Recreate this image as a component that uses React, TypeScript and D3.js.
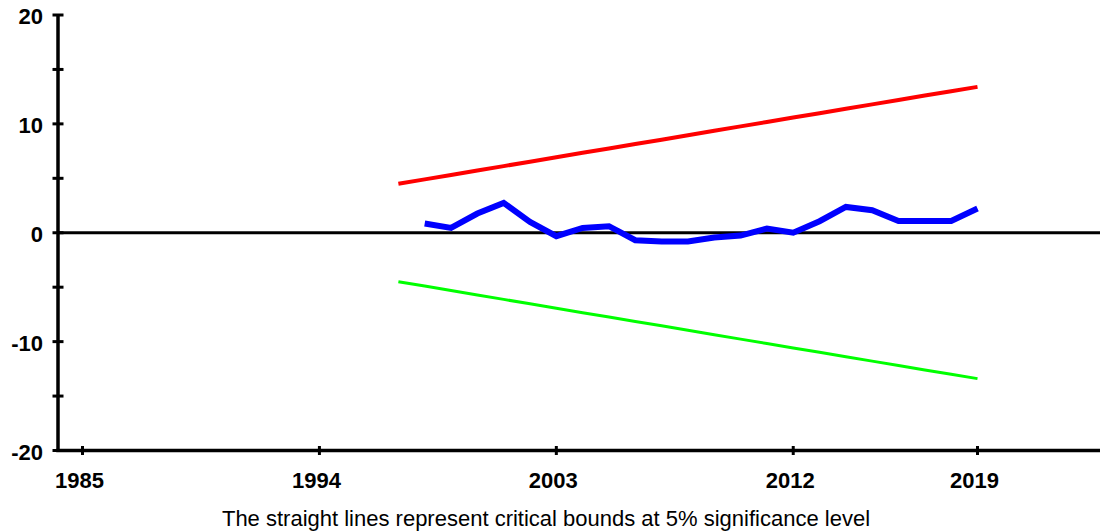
import React from "react";
import * as d3 from "d3";

const years = d3.range(1997, 2020);
const upperBound = [4.5, 4.9, 5.31, 5.72, 6.12, 6.53, 6.93, 7.34, 7.74, 8.15, 8.55, 8.96, 9.36, 9.77, 10.17, 10.58, 10.98, 11.39, 11.79, 12.2, 12.6, 13.0, 13.4];
const lowerBound = [-4.5, -4.9, -5.31, -5.72, -6.12, -6.53, -6.93, -7.34, -7.74, -8.15, -8.55, -8.96, -9.36, -9.77, -10.17, -10.58, -10.98, -11.39, -11.79, -12.2, -12.6, -13.0, -13.4];
const cusumYears = d3.range(1998, 2020);
const cusum = [0.85, 0.44, 1.76, 2.74, 1.0, -0.32, 0.44, 0.6, -0.69, -0.81, -0.81, -0.44, -0.26, 0.39, 0.0, 1.06, 2.37, 2.07, 1.08, 1.08, 1.08, 2.22];
const xTicks = [1985, 1994, 2003, 2012, 2019];
const yMinorTicks = [-20, -15, -10, -5, 0, 5, 10, 15, 20];
const yLabels = [-20, -10, 0, 10, 20];
const caption = "The straight lines represent critical bounds at 5% significance level";

export default function App() {
  const W = 1100, H = 531;
  const x = d3.scaleLinear().domain([1985, 2019]).range([82.5, 977.5]);
  const y = d3.scaleLinear().domain([-20, 20]).range([450.5, 15]);
  const axisX = 58;
  const font = "'Liberation Sans', Arial, sans-serif";

  const line = d3
    .line<[number, number]>()
    .x((d) => x(d[0]))
    .y((d) => y(d[1]));

  const up = line(years.map((yr, i) => [yr, upperBound[i]]) as [number, number][]) || "";
  const lo = line(years.map((yr, i) => [yr, lowerBound[i]]) as [number, number][]) || "";
  const cs = line(cusumYears.map((yr, i) => [yr, cusum[i]]) as [number, number][]) || "";

  return (
    <div style={{ position: "absolute", left: 0, top: 0 }}>
      <svg width={W} height={H} style={{ display: "block", background: "#fff" }}>
        <rect width={W} height={H} fill="#fff" />
        {/* zero line */}
        <line x1={axisX} x2={W} y1={y(0)} y2={y(0)} stroke="#000" strokeWidth={3} />
        {/* bounds */}
        <path d={up} fill="none" stroke="#ff0000" strokeWidth={4} />
        <path d={lo} fill="none" stroke="#00ff00" strokeWidth={3} />
        <path d={cs} fill="none" stroke="#0000ff" strokeWidth={6} strokeLinejoin="miter" />
        {/* axes */}
        <line x1={axisX} x2={axisX} y1={y(20)} y2={y(-20)} stroke="#000" strokeWidth={3.5} />
        <line x1={axisX - 1.75} x2={W} y1={y(-20)} y2={y(-20)} stroke="#000" strokeWidth={3.5} />
        {yMinorTicks.map((t) => (
          <line key={"yt" + t} x1={axisX - 5.5} x2={axisX + 5.5} y1={y(t)} y2={y(t)} stroke="#000" strokeWidth={3} />
        ))}
        {yLabels.map((t) => (
          <text key={"yl" + t} x={43} y={y(t) + 9} textAnchor="end" fontFamily={font} fontWeight="bold" fontSize={22} fill="#000">
            {t}
          </text>
        ))}
        {xTicks.map((t) => (
          <line key={"xt" + t} x1={x(t)} x2={x(t)} y1={y(-20) - 4.5} y2={y(-20) + 4.5} stroke="#000" strokeWidth={3} />
        ))}
        {xTicks.map((t) => (
          <text key={"xl" + t} x={x(t) - 3} y={488} textAnchor="middle" fontFamily={font} fontWeight="bold" fontSize={22} fill="#000">
            {t}
          </text>
        ))}
        <text x={546} y={526} textAnchor="middle" fontFamily={font} fontSize={22} fill="#000">
          {caption}
        </text>
      </svg>
    </div>
  );
}
